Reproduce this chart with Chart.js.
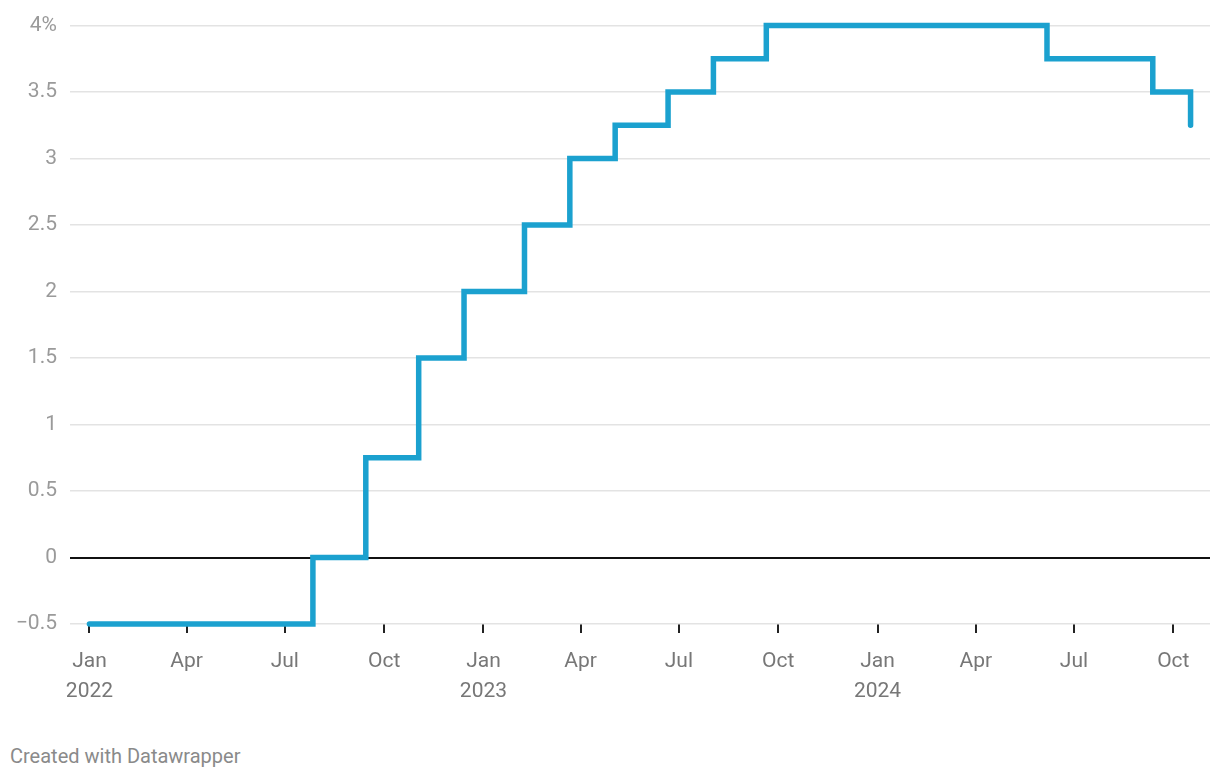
<!DOCTYPE html>
<html>
<head>
<meta charset="utf-8">
<script src="https://cdn.jsdelivr.net/npm/chart.js@4/dist/chart.umd.min.js"></script>
<style>
  body { margin: 0; background: #fff; font-family: Roboto, sans-serif; }
  #wrap { position: relative; width: 1220px; height: 720px; }
  .credit { position: absolute; left: 10px; top: 744px; font-size: 20px; color: #8a8a8a; }
</style>
</head>
<body>
<div id="wrap"><canvas id="rate"></canvas></div>
<div class="credit">Created with Datawrapper</div>
<script>
// rate change dates and the new level (%)
const changeDates = ['2022-01-01', '2022-07-27', '2022-09-14', '2022-11-02', '2022-12-14',
  '2023-02-08', '2023-03-22', '2023-05-03', '2023-06-21', '2023-08-02', '2023-09-20',
  '2024-06-06', '2024-09-12', '2024-10-17'];
const rates = [-0.5, 0, 0.75, 1.5, 2, 2.5, 3, 3.25, 3.5, 3.75, 4, 3.75, 3.5, 3.25];

const tickDates = ['2022-01-01', '2022-04-01', '2022-07-01', '2022-10-01',
  '2023-01-01', '2023-04-01', '2023-07-01', '2023-10-01',
  '2024-01-01', '2024-04-01', '2024-07-01', '2024-10-01'];
const monthNames = ['Jan', 'Feb', 'Mar', 'Apr', 'May', 'Jun', 'Jul', 'Aug', 'Sep', 'Oct', 'Nov', 'Dec'];

const toMs = (d) => Date.parse(d + 'T00:00:00Z');

const points = changeDates.map((d, i) => ({ x: toMs(d), y: rates[i] }));

new Chart(document.getElementById('rate'), {
  type: 'line',
  data: {
    datasets: [{
      data: points,
      stepped: 'before',
      borderColor: '#1ba1cf',
      borderWidth: 5.5,
      borderCapStyle: 'round',
      pointRadius: 0,
      clip: false,
      fill: false
    }]
  },
  options: {
    responsive: true,
    maintainAspectRatio: false,
    animation: false,
    layout: { padding: { top: 24, right: 10, left: 0, bottom: 0 } },
    plugins: { legend: { display: false }, tooltip: { enabled: false } },
    scales: {
      x: {
        type: 'linear',
        min: toMs('2021-12-14'),
        max: toMs('2024-11-04'),
        afterBuildTicks: (scale) => {
          scale.ticks = tickDates.map(d => ({ value: toMs(d) }));
        },
        afterFit: (scale) => { scale.height = 96; },
        border: { display: false },
        grid: { drawOnChartArea: false, drawTicks: true, tickLength: 9, color: '#222', lineWidth: 2 },
        ticks: {
          autoSkip: false,
          maxRotation: 0,
          padding: 14,
          color: '#777',
          font: { family: 'Roboto', size: 21, lineHeight: 1.43 },
          callback: (v) => {
            const d = new Date(v);
            const m = monthNames[d.getUTCMonth()];
            return d.getUTCMonth() === 0 ? [m, String(d.getUTCFullYear())] : m;
          }
        }
      },
      y: {
        min: -0.5,
        max: 4,
        afterFit: (scale) => { scale.width = 70; },
        border: { display: false },
        grid: {
          drawTicks: false,
          color: (ctx) => ctx.tick && ctx.tick.value === 0 ? '#111' : '#e3e3e3',
          lineWidth: (ctx) => ctx.tick && ctx.tick.value === 0 ? 2 : 1.5
        },
        ticks: {
          stepSize: 0.5,
          padding: 13,
          color: '#9a9a9a',
          font: { family: 'Roboto', size: 21 },
          callback: (v) => {
            if (v === 4) return '4%';
            const s = String(v);
            return s.replace('-', '\u2212');
          }
        }
      }
    }
  }
});
</script>
</body>
</html>
